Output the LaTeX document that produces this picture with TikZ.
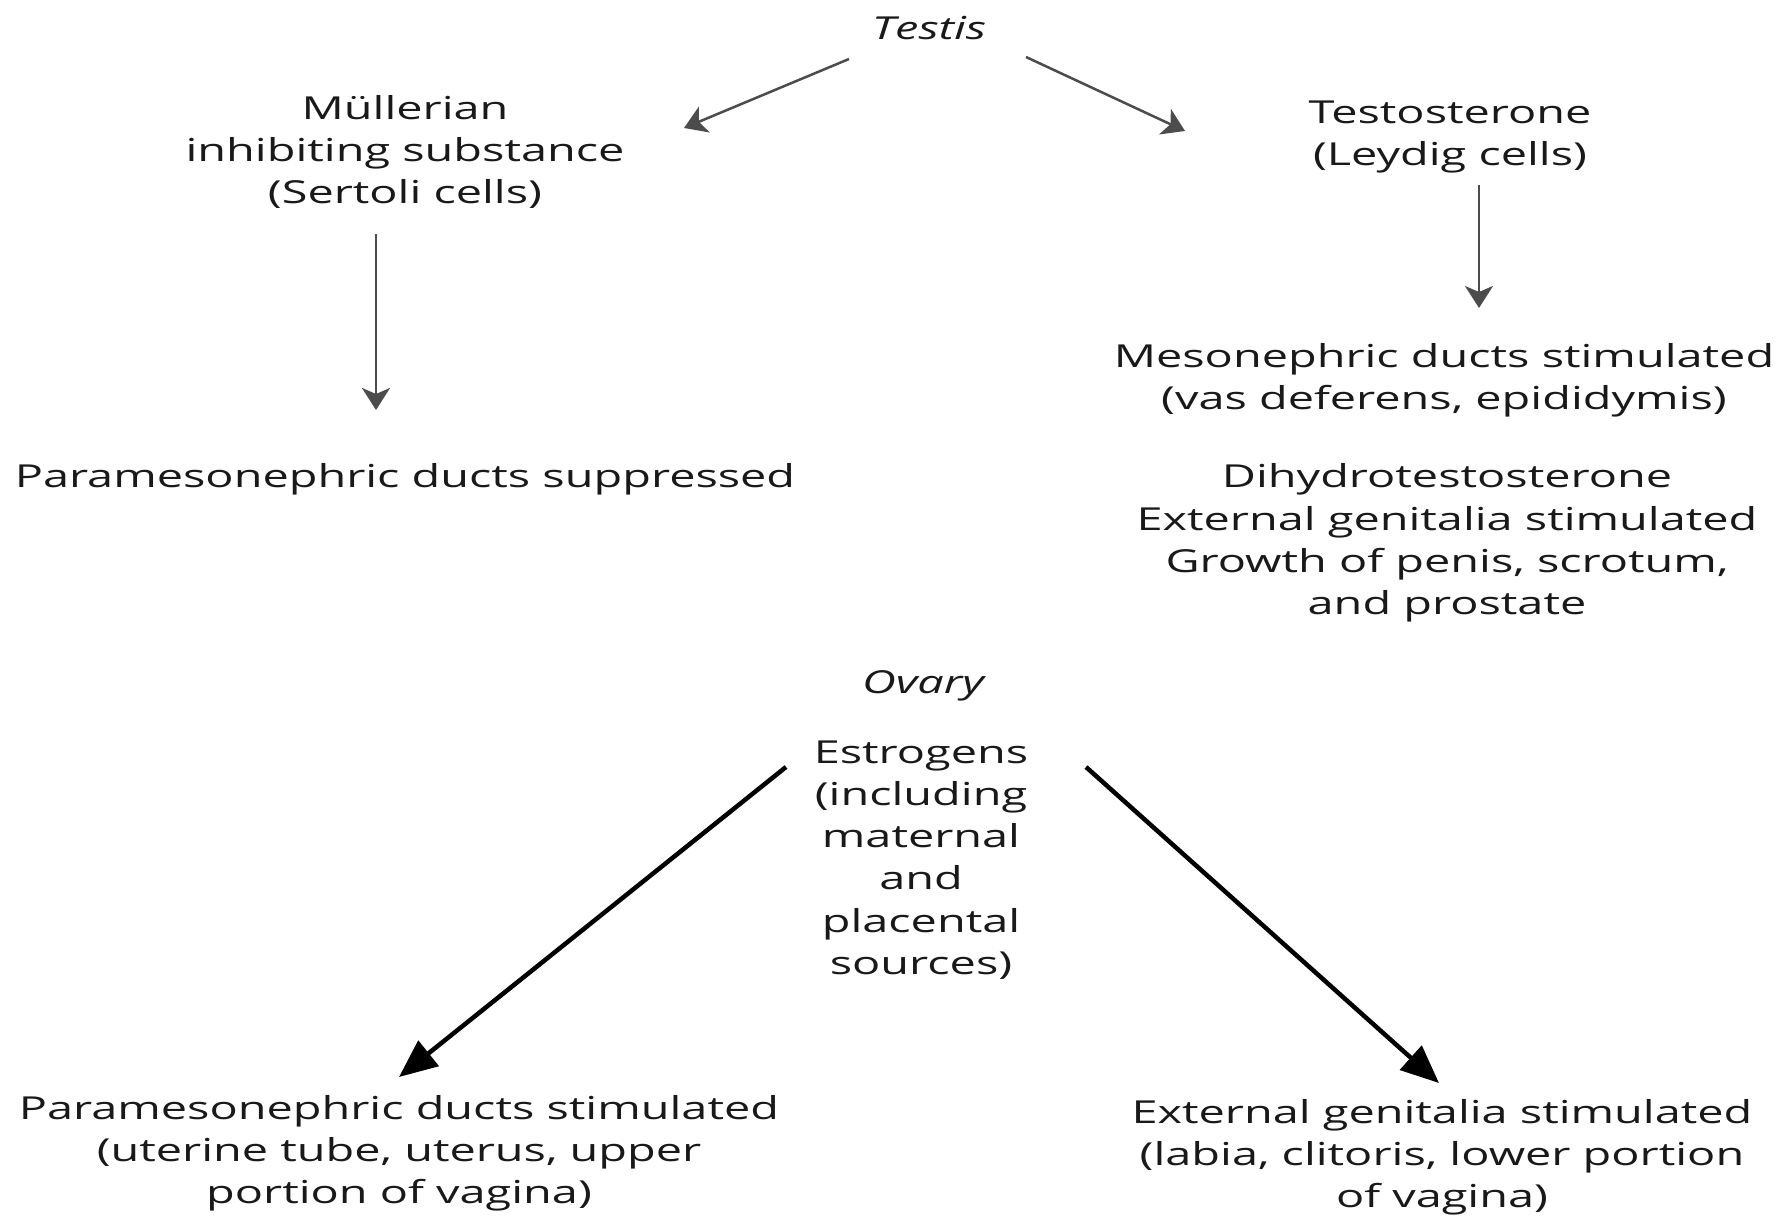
\documentclass[tikz,border=0pt]{standalone}
\usepackage{fontspec}
\setmainfont[FakeStretch=1.48]{Open Sans}
\usetikzlibrary{positioning,calc,arrows.meta}
\tikzset{
  txt/.style={align=center, inner sep=2pt, text=black!90, font=\fontsize{9}{12}\selectfont},
  org/.style={txt, font=\fontsize{9}{12}\selectfont\itshape},
  thinarr/.style={draw=black!70, line width=0.25mm, -{Stealth[length=2.2mm,width=2.8mm,inset=0.6mm]}},
  boldarr/.style={draw=black, line width=0.45mm, -{Triangle[length=3.8mm,width=3.2mm]}}
}

\begin{document}
\begin{tikzpicture}[x=0.01cm,y=0.01cm]
	\useasboundingbox (0,0) rectangle (1787,-1218);
	% male side
	\node[org] (testis) at (929,-28) {Testis};
	\node[txt] (mis) at (405,-152) {Müllerian\\inhibiting substance\\(Sertoli cells)};
	\node[txt] (pds) at (405,-479) {Paramesonephric ducts suppressed};
	\node[txt] (testo) at (1450,-137) {Testosterone\\(Leydig cells)};
	\node[txt] (meso) at (1444,-380) {Mesonephric ducts stimulated\\(vas deferens, epididymis)};
	\node[txt] (dht) at (1447,-543) {Dihydrotestosterone\\External genitalia stimulated\\Growth of penis, scrotum,\\and prostate};
	% female side
	\node[org] (ovary) at (923,-686) {Ovary};
	\node[txt] (estro) at (921,-860) {Estrogens\\(including\\maternal\\and\\placental\\sources)};
	\node[txt] (pdstim) at (399,-1153) {Paramesonephric ducts stimulated\\(uterine tube, uterus, upper\\portion of vagina)};
	\node[txt] (egstim) at (1442,-1157) {External genitalia stimulated\\(labia, clitoris, lower portion\\of vagina)};
	%
	\draw[thinarr] ($(testis)+(-80,-31)$) -- ($(mis)+(279,24)$);
	\draw[thinarr] ($(testis)+(97,-29)$) -- ($(testo)+(-265,6)$);
	\draw[thinarr] ($(mis)+(-29,-82)$) -- ($(pds)+(-29,69)$);
	\draw[thinarr] ($(testo)+(29,-48)$) -- ($(meso)+(35,72)$);
	\draw[boldarr] ($(estro)+(-135,93)$) -- ($(pdstim)+(0,76)$);
	\draw[boldarr] ($(estro)+(165,93)$) -- ($(egstim)+(-3,74)$);
\end{tikzpicture}
\end{document}
